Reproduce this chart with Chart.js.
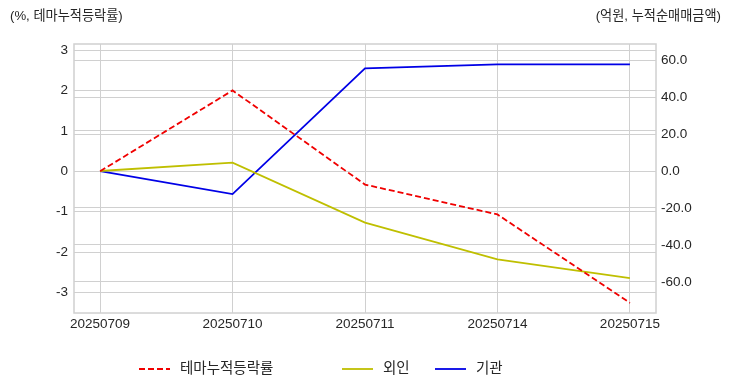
<!DOCTYPE html>
<html lang="ko">
<head>
    <meta charset="UTF-8">
    <title>테마누적등락률</title>
    <script src="https://cdn.jsdelivr.net/npm/chart.js"></script>
    <style>
        body { margin: 0; background: white; }
        #wrap { width: 732px; height: 392px; position: relative; }
    </style>
</head>
<body>
    <div id="wrap"><canvas id="lineChart"></canvas></div>
    <script>
        // data
        const dates = ["20250709", "20250710", "20250711", "20250714", "20250715"];
        const themeRate = [0, 2.0, -0.33, -1.07, -3.26];      // % (left axis)
        const foreign = [0, 4.5, -27.9, -47.8, -58.0];        // 억원 (right axis)
        const institution = [0, -12.5, 55.6, 57.8, 57.8];    // 억원 (right axis)
        const leftTicks = [-3, -2, -1, 0, 1, 2, 3];
        const rightTicks = [-60, -40, -20, 0, 20, 40, 60];

        const FONT = "'Liberation Sans', Arial, 'Noto Sans CJK KR', sans-serif";
        const GRID = "#d0d0d0";
        const TEXT = "#262626";

        const toPoints = (arr) => arr.map((v, i) => ({ x: i, y: v }));

        const setTicks = (list) => (scale) => {
            scale.ticks = list.map(v => ({ value: v }));
        };

        // axis titles, plot frame and legend
        const decor = {
            id: "decor",
            afterDraw(chart) {
                const ctx = chart.ctx;
                const a = chart.chartArea;
                ctx.save();
                ctx.strokeStyle = GRID;
                ctx.lineWidth = 1.5;
                ctx.strokeRect(a.left, a.top, a.right - a.left, a.bottom - a.top);

                ctx.fillStyle = TEXT;
                ctx.font = "13.2px " + FONT;
                ctx.textBaseline = "middle";
                ctx.textAlign = "left";
                ctx.fillText("(%, 테마누적등락률)", 10, 16);
                ctx.textAlign = "right";
                ctx.fillText("(억원, 누적순매매금액)", 721, 16);

                // legend
                const items = [
                    { x: 139, ds: chart.data.datasets[0] },
                    { x: 342, ds: chart.data.datasets[1] },
                    { x: 435, ds: chart.data.datasets[2] },
                ];
                const ly = 369;
                ctx.font = "14.5px " + FONT;
                ctx.textAlign = "left";
                items.forEach(it => {
                    ctx.strokeStyle = it.ds.borderColor;
                    ctx.lineWidth = 1.8;
                    ctx.setLineDash(it.ds.borderDash || []);
                    ctx.beginPath();
                    ctx.moveTo(it.x, ly);
                    ctx.lineTo(it.x + 31, ly);
                    ctx.stroke();
                    ctx.setLineDash([]);
                    ctx.fillStyle = TEXT;
                    ctx.fillText(it.ds.label, it.x + 41, ly);
                });
                ctx.restore();
            }
        };

        new Chart(document.getElementById("lineChart"), {
            type: "line",
            data: {
                datasets: [
                    {
                        label: "테마누적등락률",
                        data: toPoints(themeRate),
                        yAxisID: "y",
                        borderColor: "#f00000",
                        borderWidth: 1.8,
                        borderDash: [6, 3],
                        pointRadius: 0,
                        tension: 0,
                    },
                    {
                        label: "외인",
                        data: toPoints(foreign),
                        yAxisID: "y1",
                        borderColor: "#bfbf00",
                        borderWidth: 1.8,
                        pointRadius: 0,
                        tension: 0,
                    },
                    {
                        label: "기관",
                        data: toPoints(institution),
                        yAxisID: "y1",
                        borderColor: "#0000e6",
                        borderWidth: 1.8,
                        pointRadius: 0,
                        tension: 0,
                    },
                ],
            },
            options: {
                responsive: true,
                maintainAspectRatio: false,
                animation: false,
                layout: { padding: { top: 44, left: 0, right: 0, bottom: 0 } },
                plugins: {
                    legend: { display: false },
                    tooltip: { enabled: false },
                },
                scales: {
                    x: {
                        type: "linear",
                        min: -0.197,
                        max: 4.197,
                        afterBuildTicks: setTicks([0, 1, 2, 3, 4]),
                        afterFit: (s) => { s.height = 79; },
                        grid: { color: GRID, drawTicks: false },
                        border: { display: false },
                        ticks: {
                            padding: 3,
                            color: TEXT,
                            font: { family: FONT, size: 13.5 },
                            callback: (v) => dates[v],
                            maxRotation: 0,
                        },
                    },
                    y: {
                        position: "left",
                        min: -3.51,
                        max: 3.15,
                        afterBuildTicks: setTicks(leftTicks),
                        afterFit: (s) => { s.width = 74; },
                        grid: { color: GRID, drawTicks: false },
                        border: { display: false },
                        ticks: {
                            padding: 6,
                            color: TEXT,
                            font: { family: FONT, size: 13.5 },
                        },
                    },
                    y1: {
                        position: "right",
                        min: -76.9,
                        max: 68.8,
                        afterBuildTicks: setTicks(rightTicks),
                        afterFit: (s) => { s.width = 76; },
                        grid: { color: GRID, drawTicks: false },
                        border: { display: false },
                        ticks: {
                            padding: 5,
                            color: TEXT,
                            font: { family: FONT, size: 13.5 },
                            callback: (v) => v.toFixed(1),
                        },
                    },
                },
            },
            plugins: [decor],
        });
    </script>
</body>
</html>
